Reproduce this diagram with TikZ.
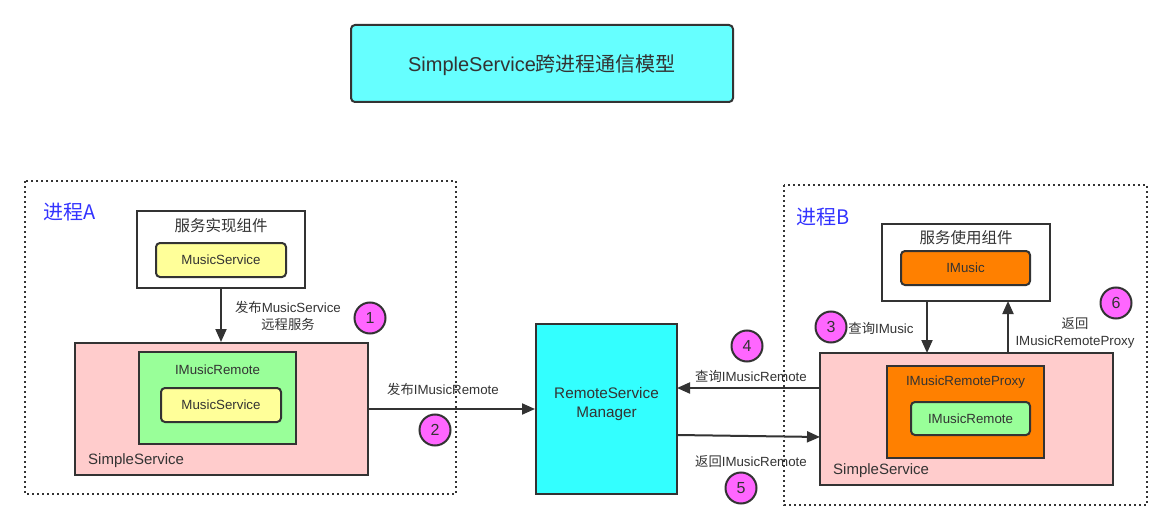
\documentclass[tikz,border=0pt]{standalone}
\usepackage{fontspec}
\setmainfont{Liberation Sans}
\newfontfamily\cjk{Noto Sans CJK SC}
\usetikzlibrary{arrows.meta}
\definecolor{ink}{HTML}{333333}
\definecolor{titlecyan}{HTML}{66FFFF}
\definecolor{mgrcyan}{HTML}{33FFFF}
\definecolor{pinkbg}{HTML}{FFCCCC}
\definecolor{greenbg}{HTML}{99FF99}
\definecolor{yellowbg}{HTML}{FFFF99}
\definecolor{orangebg}{HTML}{FF8000}
\definecolor{magenta1}{HTML}{FF66FF}
\definecolor{procblue}{HTML}{3333FF}
\tikzset{
  box/.style={draw=ink, line width=2pt, inner sep=0pt},
  rbox/.style={box, rounded corners=4pt},
  proc/.style={draw=ink, line width=2pt, dash pattern=on 2pt off 3pt, inner sep=0pt},
  lbl/.style={text=ink, font=\fontsize{13.3}{16}\selectfont, inner sep=0pt, align=center},
  num/.style={circle, draw=ink, line width=2pt, fill=magenta1, minimum size=31pt, inner sep=0pt, text=ink, font=\fontsize{16}{18}\selectfont},
  arr/.style={draw=ink, line width=2pt, -{Triangle[length=13pt,width=11pt]}},
}
\begin{document}
\begin{tikzpicture}[x=1pt,y=-1pt]
\useasboundingbox (0,0) rectangle (1173,532);
% title
\draw[rbox, fill=titlecyan] (351,25) rectangle (733,102);
\node[lbl, font=\fontsize{20}{24}\selectfont] (title) at (542,65) {SimpleService{\cjk 跨进程通信模型}};
% process A
\draw[proc] (25,181) rectangle (456,494);
\node[text=procblue, font=\fontsize{20}{22}\selectfont\cjk, anchor=west, inner sep=0pt] (pa) at (43,212) {进程A};
\node[box, fill=white, minimum width=168pt, minimum height=77pt] (implA) at (221,249.5) {};
\node[lbl, font=\fontsize{15.5}{18}\selectfont\cjk] (implAt) at (221,226) {服务实现组件};
\node[rbox, fill=yellowbg, minimum width=130pt, minimum height=34pt] (msA) at (221,260) {};
\node[lbl] at (msA) {MusicService};
\node[box, fill=pinkbg, minimum width=293pt, minimum height=132pt] (ssA) at (221.5,409) {};
\node[box, fill=greenbg, minimum width=157pt, minimum height=92pt] (irA) at (217.5,398) {};
\node[lbl] at (217.5,370) {IMusicRemote};
\node[rbox, fill=yellowbg, minimum width=120pt, minimum height=34pt] (ms2A) at (221,405) {};
\node[lbl] at (ms2A) {MusicService};
\node[lbl, font=\fontsize{15}{17}\selectfont, anchor=west] (ssAt) at (88,461) {SimpleService};
\draw[arr] (implA.south) -- (implA.south |- ssA.north);
\node[lbl] (l1) at (288,316) {{\cjk 发布}MusicService\\[1pt]{\cjk 远程服务}};
\node[num] (n1) at (370,318) {1};
% manager
\node[box, fill=mgrcyan, minimum width=141pt, minimum height=170pt] (mgr) at (606.5,409) {};
\node[lbl, font=\fontsize{15.3}{19}\selectfont] at (606.5,404) {RemoteService\\Manager};
\draw[arr] (ssA.east) -- (mgr.west);
\node[lbl] (l2) at (443,389) {{\cjk 发布}IMusicRemote};
\node[num] (n2) at (435,430) {2};
% process B
\draw[proc] (784,185) rectangle (1147,505);
\node[text=procblue, font=\fontsize{20}{22}\selectfont\cjk, anchor=west, inner sep=0pt] (pb) at (796,217) {进程B};
\node[box, fill=white, minimum width=168pt, minimum height=77pt] (useB) at (966,262.5) {};
\node[lbl, font=\fontsize{15.5}{18}\selectfont\cjk] at (966,238) {服务使用组件};
\node[rbox, fill=orangebg, minimum width=129pt, minimum height=34pt] (im) at (965.5,268) {};
\node[lbl] at (im) {IMusic};
\node[box, fill=pinkbg, minimum width=293pt, minimum height=132pt] (ssB) at (966.5,419) {};
\node[box, fill=orangebg, minimum width=157pt, minimum height=92pt] (prx) at (965.5,412) {};
\node[lbl] at (965.5,382) {IMusicRemoteProxy};
\node[rbox, fill=greenbg, minimum width=119pt, minimum height=33pt] (irB) at (970.5,418.5) {};
\node[lbl] at (irB) {IMusicRemote};
\node[lbl, font=\fontsize{15}{17}\selectfont, anchor=west] (ssBt) at (833,471) {SimpleService};
\coordinate (d1) at (927,301);
\coordinate (d2) at (927,353);
\coordinate (u1) at (1008,353);
\coordinate (u2) at (1008,301);
\draw[arr] (d1) -- (d2);
\draw[arr] (u1) -- (u2);
\node[num] (n3) at (831,327) {3};
\node[lbl] (l3) at (881,328) {{\cjk 查询}IMusic};
\node[num] (n6) at (1116,303) {6};
\node[lbl] (l6) at (1075,333) {{\cjk 返回}\\[1pt]IMusicRemoteProxy};
% B <-> manager
\coordinate (q1) at (820,388);
\coordinate (q2) at (677,388);
\draw[arr] (q1) -- (q2);
\node[lbl] (l4) at (751,376) {{\cjk 查询}IMusicRemote};
\node[num] (n4) at (747,346) {4};
\coordinate (r1) at (677,435);
\coordinate (r2) at (820,437);
\draw[arr] (r1) -- (r2);
\node[lbl] (l5) at (751,462) {{\cjk 返回}IMusicRemote};
\node[num] (n5) at (741,488) {5};
\end{tikzpicture}
\end{document}
